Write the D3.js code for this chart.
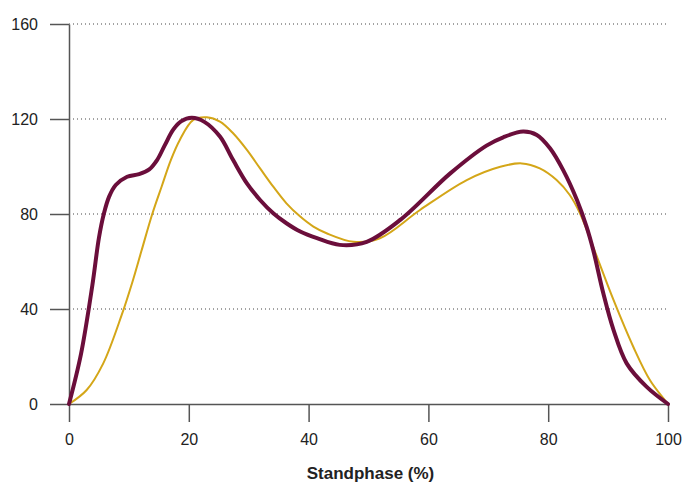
<!DOCTYPE html>
<html lang="en">
<head>
<meta charset="UTF-8">
<title>Standphase</title>
<script src="https://d3js.org/d3.v7.min.js"></script>
<style>
    body { margin: 0; background: #fff; }
    svg { display: block; font-family: "Liberation Sans", Arial, sans-serif; }
    .axis text { font-size: 16px; fill: #222; }
    .axis line, .axis path { stroke: #555; stroke-width: 1.5px; }
    .grid line { stroke: #444; stroke-width: 1px; stroke-dasharray: 1,3; }
    .title { font-size: 17px; font-weight: bold; fill: #222; }
</style>
</head>
<body>
<svg width="684" height="482"></svg>
<script>
// maroon series (measured)
const maroonX = [0, 2, 3.9, 5, 5.84, 6.7, 7.8, 9.7, 11.7, 13.4, 14.7, 16, 17.4, 18.7, 20.5, 22.6, 25.2, 27.4, 29.7, 31.9, 34.1, 36.3, 38.6, 41.4, 45.2, 49.7, 55.3, 63.6, 69.7, 72.5, 75.8, 78.1, 80.3, 82.5, 84.8, 86.4, 87.5, 89.2, 90.9, 93.1, 96.4, 100];
const maroonY = [0, 21, 50, 70, 80.3, 87.3, 92.2, 95.7, 96.8, 98.8, 102.7, 109, 115.5, 119, 120.5, 118.8, 112.6, 102.7, 92.9, 85.9, 80.3, 76.1, 72.6, 69.8, 67, 68.3, 77.5, 97, 108.8, 112.3, 114.7, 113.3, 107.7, 98.5, 85.9, 74.7, 65, 46.6, 31.2, 17.1, 7.3, 0];

// gold series (measured)
const goldX = [0, 2.95, 5.7, 8.8, 10.6, 12.1, 13.9, 15.5, 17, 18.5, 20.75, 23, 25.2, 27.4, 29.7, 31.9, 34.1, 36.3, 38.6, 40.8, 43, 47.5, 51.9, 58.6, 66.4, 72, 75.6, 78.6, 81.4, 83.6, 85.3, 87.5, 90.9, 94.2, 97, 100];
const goldY = [0, 5.9, 17, 37.5, 51.5, 64.5, 80, 91.8, 102.7, 111.2, 119.6, 120.7, 118.9, 114, 107, 99.2, 91.5, 84.5, 78.9, 74.7, 71.9, 68.3, 69.8, 81.7, 94.3, 99.9, 101.3, 99.2, 94.3, 88, 80.3, 66.2, 43.8, 24.1, 10, 0];

const xTicks = [0, 20, 40, 60, 80, 100];
const yTicks = [0, 40, 80, 120, 160];
const xTitle = "Standphase (%)";

const svg = d3.select("svg");
const margin = { left: 69, right: 16, top: 24, bottom: 78 };
const width = 684, height = 482;

const x = d3.scaleLinear().domain([0, 100]).range([margin.left, width - margin.right]);
const y = d3.scaleLinear().domain([0, 160]).range([height - margin.bottom, margin.top]);

// dotted gridlines
svg.append("g").attr("class", "grid")
    .selectAll("line")
    .data(yTicks.filter(d => d > 0))
    .join("line")
    .attr("x1", x(0)).attr("x2", x(100))
    .attr("y1", d => y(d)).attr("y2", d => y(d));

// axes
svg.append("g").attr("class", "axis")
    .attr("transform", `translate(0,${y(0)})`)
    .call(d3.axisBottom(x).tickValues(xTicks).tickSize(18).tickSizeOuter(0).tickPadding(12));

svg.append("g").attr("class", "axis")
    .attr("transform", `translate(${x(0)},0)`)
    .call(d3.axisLeft(y).tickValues(yTicks).tickSize(19).tickSizeOuter(0).tickPadding(12));

svg.append("text").attr("class", "title")
    .attr("x", (x(0) + x(100)) / 2 + 2)
    .attr("y", 479)
    .attr("text-anchor", "middle")
    .text(xTitle);

const line = d3.line().curve(d3.curveCatmullRom.alpha(0.5))
    .x(d => x(d[0])).y(d => y(d[1]));

svg.append("path")
    .datum(d3.zip(goldX, goldY))
    .attr("d", line)
    .attr("fill", "none")
    .attr("stroke", "#d4a618")
    .attr("stroke-width", 2);

svg.append("path")
    .datum(d3.zip(maroonX, maroonY))
    .attr("d", line)
    .attr("fill", "none")
    .attr("stroke", "#6b0e3b")
    .attr("stroke-width", 4)
    .attr("stroke-linecap", "round")
    .attr("stroke-linejoin", "round");
</script>
</body>
</html>
